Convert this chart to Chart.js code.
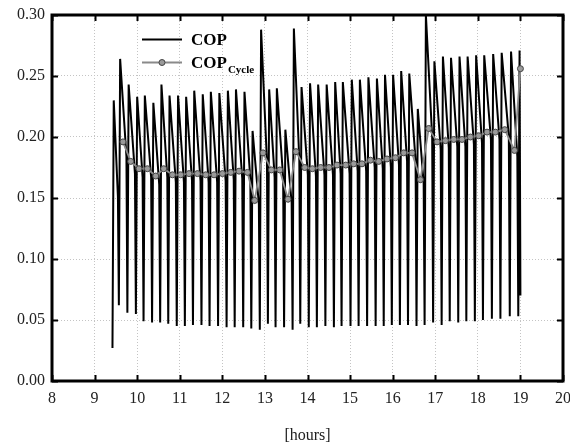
<!DOCTYPE html>
<html>
<head>
<meta charset="utf-8">
<script src="https://cdn.jsdelivr.net/npm/chart.js@4/dist/chart.umd.min.js"></script>
<style>
  html, body { margin: 0; padding: 0; background: #fff; }
  #wrap { width: 570px; height: 446px; }
</style>
</head>
<body>
<div id="wrap"><canvas id="c" width="570" height="446"></canvas></div>
<script>
// Time axis [hours] and COP axis ticks
const xTicks = [8, 9, 10, 11, 12, 13, 14, 15, 16, 17, 18, 19, 20];
const yTicks = [0.00, 0.05, 0.10, 0.15, 0.20, 0.25, 0.30];

// Instantaneous COP, one entry per adsorption cycle:
// cycle start time, minimum at the switch, peak after the switch, value just before the next switch
const cycleStart = [9.42, 9.57, 9.77, 9.97, 10.15, 10.35, 10.54, 10.73, 10.93, 11.12,
                    11.31, 11.51, 11.70, 11.90, 12.10, 12.29, 12.49, 12.68, 12.88, 13.07,
                    13.25, 13.45, 13.65, 13.83, 14.03, 14.22, 14.42, 14.62, 14.80, 15.01,
                    15.20, 15.40, 15.60, 15.79, 15.98, 16.17, 16.36, 16.56, 16.75, 16.95,
                    17.15, 17.34, 17.54, 17.73, 17.93, 18.12, 18.33, 18.53, 18.75, 18.95];
const cycleLow   = [0.027, 0.062, 0.056, 0.055, 0.049, 0.048, 0.048, 0.047, 0.045, 0.045,
                    0.046, 0.046, 0.045, 0.045, 0.044, 0.044, 0.044, 0.043, 0.042, 0.047,
                    0.044, 0.044, 0.042, 0.047, 0.044, 0.044, 0.045, 0.044, 0.045, 0.045,
                    0.045, 0.045, 0.045, 0.045, 0.046, 0.046, 0.046, 0.045, 0.046, 0.048,
                    0.046, 0.049, 0.048, 0.049, 0.049, 0.050, 0.051, 0.051, 0.053, 0.053];
const cyclePeak  = [0.230, 0.264, 0.243, 0.233, 0.234, 0.228, 0.243, 0.234, 0.234, 0.233,
                    0.238, 0.235, 0.237, 0.236, 0.238, 0.239, 0.237, 0.205, 0.288, 0.239,
                    0.240, 0.206, 0.289, 0.241, 0.244, 0.243, 0.243, 0.245, 0.245, 0.247,
                    0.247, 0.249, 0.248, 0.251, 0.251, 0.254, 0.252, 0.223, 0.300, 0.262,
                    0.266, 0.265, 0.266, 0.266, 0.267, 0.267, 0.268, 0.269, 0.270, 0.271];
const cycleEnd   = [0.151, 0.184, 0.170, 0.167, 0.167, 0.161, 0.167, 0.163, 0.163, 0.164,
                    0.164, 0.163, 0.163, 0.164, 0.165, 0.166, 0.165, 0.145, 0.180, 0.167,
                    0.167, 0.146, 0.181, 0.169, 0.168, 0.169, 0.169, 0.170, 0.170, 0.172,
                    0.172, 0.175, 0.174, 0.175, 0.177, 0.180, 0.181, 0.162, 0.200, 0.190,
                    0.191, 0.192, 0.192, 0.194, 0.195, 0.198, 0.198, 0.200, 0.184, 0.070];
const lastTime = 19.0;

// Cycle-averaged COP
const cycleHours = [9.667, 9.848, 10.043, 10.240, 10.435, 10.623, 10.828, 11.023, 11.217, 11.415,
                    11.610, 11.805, 12.002, 12.197, 12.392, 12.589, 12.760, 12.955, 13.153, 13.348,
                    13.542, 13.730, 13.935, 14.115, 14.310, 14.505, 14.693, 14.898, 15.086, 15.280,
                    15.478, 15.673, 15.868, 16.065, 16.260, 16.455, 16.652, 16.847, 17.042, 17.239,
                    17.434, 17.629, 17.826, 18.021, 18.216, 18.413, 18.632, 18.860, 19.000];
const copCycle   = [0.196, 0.180, 0.174, 0.174, 0.168, 0.174, 0.169, 0.169, 0.170, 0.170,
                    0.169, 0.169, 0.170, 0.171, 0.172, 0.171, 0.148, 0.187, 0.173, 0.173,
                    0.149, 0.188, 0.175, 0.174, 0.175, 0.175, 0.177, 0.177, 0.178, 0.178,
                    0.181, 0.180, 0.182, 0.183, 0.187, 0.187, 0.165, 0.207, 0.196, 0.197,
                    0.198, 0.198, 0.200, 0.201, 0.204, 0.204, 0.206, 0.189, 0.256];

// Short offsets of the rise after a switch and of the drop before the next one [h]
const RISE = 0.03, DROP = 0.022;

const copPoints = [];
for (let k = 0; k < cycleStart.length; k++) {
  copPoints.push({ x: cycleStart[k], y: cycleLow[k] });
  copPoints.push({ x: cycleStart[k] + RISE, y: cyclePeak[k] });
  const tEnd = k < cycleStart.length - 1 ? cycleStart[k + 1] - DROP : lastTime;
  copPoints.push({ x: tEnd, y: cycleEnd[k] });
}
const cyclePoints = cycleHours.map((h, i) => ({ x: h, y: copCycle[i] }));

const SERIF = '"Liberation Serif", "Times New Roman", serif';

// Frame with inward ticks on all four sides
const framePlugin = {
  id: 'frame',
  afterDatasetsDraw(chart) {
    const { ctx, chartArea: a, scales: { x, y } } = chart;
    ctx.save();
    ctx.strokeStyle = '#000';
    ctx.lineWidth = 2;
    ctx.beginPath();
    x.ticks.forEach(t => {
      const px = Math.round(x.getPixelForValue(t.value)) + 0.5;
      ctx.moveTo(px, a.bottom); ctx.lineTo(px, a.bottom - 6);
      ctx.moveTo(px, a.top); ctx.lineTo(px, a.top + 6);
    });
    y.ticks.forEach(t => {
      const py = Math.round(y.getPixelForValue(t.value)) + 0.5;
      ctx.moveTo(a.left, py); ctx.lineTo(a.left + 6, py);
      ctx.moveTo(a.right, py); ctx.lineTo(a.right - 6, py);
    });
    ctx.stroke();
    ctx.lineWidth = 3;
    ctx.strokeRect(a.left, a.top, a.right - a.left, a.bottom - a.top);
    ctx.restore();
  }
};

// Legend with subscripted label
const legendPlugin = {
  id: 'copLegend',
  afterDraw(chart) {
    const ctx = chart.ctx;
    ctx.save();
    ctx.lineCap = 'butt';
    // COP
    ctx.strokeStyle = '#000';
    ctx.lineWidth = 2;
    ctx.beginPath(); ctx.moveTo(142, 39.5); ctx.lineTo(182, 39.5); ctx.stroke();
    // COP_Cycle
    ctx.strokeStyle = '#8a8a8a';
    ctx.lineWidth = 2;
    ctx.beginPath(); ctx.moveTo(142, 62.5); ctx.lineTo(182, 62.5); ctx.stroke();
    ctx.beginPath(); ctx.arc(162, 62.5, 3, 0, Math.PI * 2);
    ctx.fillStyle = '#9a9a9a'; ctx.fill();
    ctx.lineWidth = 1; ctx.strokeStyle = '#444'; ctx.stroke();
    ctx.fillStyle = '#000';
    ctx.textBaseline = 'alphabetic';
    ctx.textAlign = 'left';
    ctx.font = 'bold 17px ' + SERIF;
    ctx.fillText('COP', 191, 45);
    ctx.fillText('COP', 191, 68);
    const w = ctx.measureText('COP').width;
    ctx.font = 'bold 11px ' + SERIF;
    ctx.fillText('Cycle', 191 + w + 1, 73);
    ctx.restore();
  }
};

new Chart(document.getElementById('c'), {
  type: 'line',
  data: {
    datasets: [
      {
        label: 'COP_Cycle',
        data: cyclePoints,
        order: 0,
        borderColor: '#8a8a8a',
        borderWidth: 1.8,
        pointRadius: 3,
        pointBackgroundColor: '#9a9a9a',
        pointBorderColor: '#444',
        pointBorderWidth: 1,
        tension: 0
      },
      {
        label: 'COP',
        data: copPoints,
        order: 1,
        borderColor: '#000',
        borderWidth: 2,
        pointRadius: 0,
        tension: 0
      }
    ]
  },
  options: {
    responsive: false,
    animation: false,
    devicePixelRatio: 1,
    layout: { padding: { left: 0, right: 7, top: 15, bottom: 0 } },
    plugins: { legend: { display: false }, tooltip: { enabled: false } },
    scales: {
      x: {
        type: 'linear',
        min: xTicks[0], max: xTicks[xTicks.length - 1],
        afterBuildTicks: s => { s.ticks = xTicks.map(v => ({ value: v })); },
        ticks: {
          font: { family: SERIF, size: 16 }, color: '#222', padding: 8,
          maxRotation: 0, autoSkip: false,
          callback: v => String(v)
        },
        grid: { color: '#c4c4c4', lineWidth: 1, drawTicks: false },
        border: { display: false, dash: [1, 2] },
        title: {
          display: true, text: '[hours]',
          font: { family: SERIF, size: 16 }, color: '#222',
          padding: { top: 0, bottom: 1 }
        },
        afterFit: s => { s.height = 65; s.paddingLeft = 0; s.paddingRight = 0; }
      },
      y: {
        type: 'linear',
        min: yTicks[0], max: yTicks[yTicks.length - 1],
        afterBuildTicks: s => { s.ticks = yTicks.map(v => ({ value: v })); },
        ticks: {
          font: { family: SERIF, size: 16 }, color: '#222', padding: 7,
          callback: v => Number(v).toFixed(2)
        },
        grid: { color: '#c4c4c4', lineWidth: 1, drawTicks: false },
        border: { display: false, dash: [1, 2] },
        afterFit: s => { s.width = 52; s.paddingTop = 0; s.paddingBottom = 0; }
      }
    }
  },
  plugins: [framePlugin, legendPlugin]
});
</script>
</body>
</html>
